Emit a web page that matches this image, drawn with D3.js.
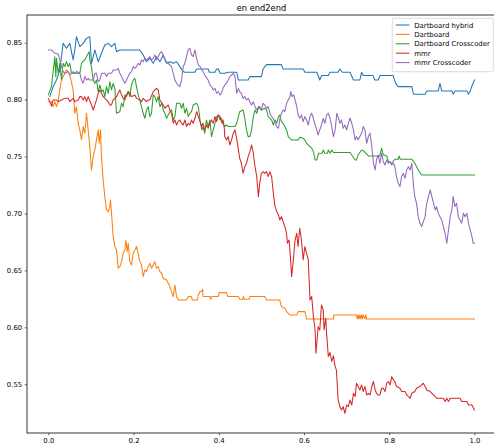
<!DOCTYPE html>
<html><head><meta charset="utf-8">
<script src="https://cdn.jsdelivr.net/npm/d3@7"></script>
<style>body{margin:0;background:#fff;} svg{display:block;font-family:"DejaVu Sans",sans-serif;}</style>
</head><body>
<svg id="c" width="494" height="443"></svg>
<script>
const seriesNames = ["Dartboard hybrid","Dartboard","Dartboard Crosscoder","mmr","mmr Crosscoder"];
const seriesColors = ["#1f77b4","#ff7f0e","#2ca02c","#d62728","#9467bd"];
const xTicks = [0.0,0.2,0.4,0.6,0.8,1.0];
const yTicks = [0.55,0.60,0.65,0.70,0.75,0.80,0.85];

const hybrid = [[0.0035,.8026],[.0114,.8114],[.0192,.8172],[.0270,.8260],[.0348,.8494],[.0426,.8451],[.0505,.8494],[.0583,.8348],[.0622,.8436],[.0661,.8553],[.0739,.8465],[.0818,.8494],[.0896,.8538],[.0974,.8553],[.1013,.8319],[.1092,.8436],[.1170,.8333],[.1248,.8407],[.1326,.8480],[.1405,.8494],[.1483,.8465],[.1561,.8494],[.1600,.8421],[.1678,.8436],[.2148,.8436],[.2226,.8392],[.2305,.8333],[.2383,.8363],[.2461,.8319],[.2539,.8377],[.2618,.8333],[.2696,.8392],[.2774,.8319],[.2852,.8333],[.2931,.8319],[.3009,.8333],[.3087,.8290],[.3165,.8246],[.320,.8240],[.344,.8240],[.348,.8269],[.375,.8269],[.378,.8240],[.391,.8240],[.395,.8269],[.399,.8269],[.403,.8231],[.414,.8231],[.422,.8240],[.442,.8240],[.446,.8172],[.469,.8172],[.473,.8202],[.500,.8202],[.504,.8269],[.512,.8307],[.547,.8307],[.551,.8269],[.598,.8269],[.602,.8240],[.630,.8240],[.637,.8172],[.641,.8211],[.657,.8211],[.661,.8240],[.680,.8240],[.684,.8269],[.690,.8240],[.708,.8240],[.716,.8172],[.731,.8172],[.735,.8240],[.739,.8211],[.762,.8211],[.766,.8172],[.774,.8172],[.778,.8211],[.809,.8211],[.815,.8143],[.821,.8114],[.853,.8114],[.857,.8047],[.884,.8047],[.888,.8076],[.915,.8076],[.919,.8143],[.923,.8076],[.947,.8076],[.950,.8047],[.954,.8076],[.982,.8076],[.986,.8047],[.990,.8076],[.994,.8120],[1.0,.8172]];

const dartboard = [[0.0,.7982],[.0074,.7982],[.0114,.7938],[.0153,.7982],[.0192,.7938],[.0231,.7982],[.0270,.8085],[.0309,.8172],[.0387,.8231],[.0426,.8260],[.0466,.8246],[.0505,.8216],[.0583,.8085],[.0622,.7880],[.0661,.7938],[.0700,.7792],[.0739,.7734],[.0779,.7646],[.0818,.7763],[.0857,.7704],[.0896,.7880],[.0935,.7734],[.0974,.7587],[.1013,.7382],[.1052,.7499],[.1092,.7558],[.1131,.7646],[.1170,.7734],[.1193,.7616],[.1225,.7734],[.1248,.7499],[.1287,.7294],[.1326,.7148],[.1365,.7031],[.1405,.7016],[.1444,.7060],[.1459,.7119],[.1483,.7002],[.1522,.6797],[.1561,.6709],[.1600,.6680],[.1639,.6519],[.1678,.6533],[.1718,.6577],[.1757,.6650],[.1796,.6680],[.1819,.6767],[.1851,.6665],[.1874,.6738],[.1913,.6577],[.1952,.6548],[.1992,.6650],[.2031,.6680],[.2070,.6709],[.2109,.6650],[.2148,.6577],[.2187,.6548],[.2226,.6445],[.2265,.6504],[.2305,.6489],[.2344,.6533],[.2383,.6562],[.2422,.6519],[.2461,.6548],[.2500,.6577],[.2539,.6519],[.2578,.6533],[.2618,.6489],[.2657,.6475],[.2696,.6431],[.2774,.6416],[.2813,.6387],[.2852,.6358],[.2891,.6314],[.2931,.6270],[.2970,.6372],[.3009,.6270],[.3048,.6240],[.3244,.6240],[.3283,.6270],[.336,.6270],[.338,.6240],[.350,.6240],[.352,.6284],[.356,.6314],[.360,.6314],[.362,.6334],[.363,.6270],[.379,.6270],[.381,.6246],[.383,.6270],[.399,.6270],[.401,.6305],[.418,.6305],[.421,.6270],[.446,.6270],[.449,.6246],[.456,.6246],[.458,.6270],[.460,.6246],[.471,.6246],[.473,.6270],[.508,.6270],[.512,.6240],[.543,.6240],[.545,.6211],[.547,.6182],[.555,.6167],[.559,.6138],[.567,.6109],[.583,.6109],[.586,.6138],[.602,.6138],[.606,.6074],[.669,.6074],[.670,.6109],[.723,.6109],[.725,.6074],[.727,.6109],[.729,.6074],[.731,.6109],[.733,.6074],[.735,.6109],[.737,.6074],[.739,.6109],[.743,.6074],[.745,.6109],[.747,.6074],[1.0,.6074]];

const crosscoder = [[0.0,.8041],[.0074,.8114],[.0153,.8377],[.0176,.8202],[.0192,.8363],[.0231,.8231],[.0270,.8319],[.0309,.8172],[.0348,.8319],[.0387,.8290],[.0426,.8333],[.0466,.8290],[.0505,.8319],[.0544,.8231],[.0739,.8231],[.0779,.8319],[.0857,.8348],[.0896,.8377],[.0959,.8421],[.0974,.8348],[.1013,.8290],[.1052,.8172],[.1092,.8143],[.1131,.8172],[.1170,.8070],[.1209,.8129],[.1248,.8070],[.1287,.8085],[.1326,.8026],[.1365,.8114],[.1405,.8055],[.1444,.8158],[.1483,.8085],[.1522,.8143],[.1561,.8099],[.1600,.7880],[.1678,.7894],[.1718,.7968],[.1757,.7938],[.1796,.8041],[.1835,.8026],[.1874,.8070],[.1913,.8026],[.1952,.8129],[.1992,.8172],[.2031,.8187],[.2070,.8114],[.2109,.8041],[.2148,.7997],[.2187,.7938],[.2226,.7880],[.2265,.7836],[.2305,.7909],[.2344,.7938],[.2383,.7851],[.2422,.7880],[.2461,.8041],[.2500,.8026],[.2539,.7982],[.2578,.8026],[.2618,.7938],[.2657,.7968],[.2696,.7909],[.2735,.7880],[.2774,.7836],[.2813,.7865],[.2852,.7894],[.2891,.7909],[.2931,.7821],[.2970,.7851],[.3009,.7968],[.3087,.7968],[.3126,.7924],[.3165,.7968],[.3205,.7880],[.3244,.7924],[.3283,.7851],[.332,.7880],[.336,.7894],[.340,.7953],[.348,.7968],[.352,.7938],[.356,.7821],[.360,.7734],[.363,.7763],[.367,.7704],[.371,.7821],[.375,.7763],[.379,.7821],[.383,.7675],[.387,.7734],[.391,.7792],[.395,.7851],[.399,.7865],[.403,.7821],[.406,.7836],[.410,.7792],[.414,.7763],[.418,.7777],[.422,.7763],[.438,.7763],[.442,.7792],[.446,.7851],[.449,.7894],[.457,.7909],[.461,.7836],[.465,.7734],[.469,.7675],[.473,.7675],[.477,.7734],[.481,.7851],[.485,.7909],[.489,.7880],[.493,.7924],[.496,.7938],[.500,.7909],[.508,.7924],[.512,.7909],[.516,.7851],[.520,.7836],[.524,.7821],[.528,.7777],[.532,.7821],[.536,.7792],[.540,.7851],[.543,.7865],[.547,.7807],[.551,.7792],[.555,.7763],[.559,.7734],[.563,.7675],[.567,.7660],[.571,.7646],[.587,.7646],[.590,.7669],[.598,.7660],[.602,.7646],[.606,.7616],[.610,.7602],[.618,.7573],[.622,.7543],[.626,.7470],[.630,.7470],[.634,.7529],[.643,.7529],[.645,.7558],[.649,.7529],[.655,.7529],[.657,.7558],[.661,.7529],[.665,.7558],[.669,.7535],[.708,.7535],[.712,.7514],[.720,.7470],[.723,.7470],[.727,.7514],[.735,.7558],[.739,.7552],[.751,.7505],[.778,.7505],[.782,.7573],[.786,.7514],[.794,.7505],[.798,.7455],[.806,.7441],[.813,.7476],[.821,.7476],[.823,.7505],[.826,.7476],[.853,.7476],[.860,.7441],[.868,.7382],[.876,.7338],[1.0,.7338]];

const mmr = [[0.0,.8011],[.0035,.7982],[.0074,.7944],[.0114,.7997],[.0192,.7997],[.0231,.7982],[.0309,.7997],[.0387,.8011],[.0466,.8011],[.0505,.7982],[.0583,.8011],[.0622,.7982],[.0700,.7997],[.0739,.8026],[.0779,.8026],[.0818,.7997],[.0857,.8026],[.0896,.7982],[.0935,.8026],[.1013,.7953],[.1052,.7909],[.1092,.7953],[.1131,.7997],[.1170,.8055],[.1209,.8085],[.1248,.8055],[.1287,.8026],[.1365,.7997],[.1405,.7982],[.1444,.7953],[.1483,.7953],[.1522,.7997],[.1600,.8026],[.1639,.8055],[.1678,.8085],[.1718,.8041],[.1757,.8011],[.1796,.7997],[.1835,.8041],[.1874,.8070],[.1913,.8055],[.1952,.8026],[.2031,.8041],[.2070,.8011],[.2148,.7997],[.2187,.7982],[.2226,.8011],[.2305,.7982],[.2344,.7997],[.2383,.7997],[.2461,.8070],[.2539,.8099],[.2578,.8085],[.2618,.7997],[.2696,.7953],[.2735,.7924],[.2774,.7938],[.2813,.7953],[.2852,.7909],[.2891,.7880],[.2931,.7792],[.2970,.7821],[.3009,.7777],[.3048,.7807],[.3087,.7821],[.3126,.7792],[.3165,.7777],[.3205,.7821],[.3244,.7763],[.3283,.7792],[.332,.7777],[.336,.7821],[.340,.7792],[.344,.7836],[.348,.7894],[.352,.7851],[.356,.7807],[.360,.7763],[.363,.7792],[.367,.7734],[.371,.7777],[.375,.7748],[.379,.7792],[.383,.7821],[.387,.7792],[.391,.7851],[.395,.7807],[.399,.7865],[.403,.7851],[.405,.7821],[.408,.7792],[.410,.7821],[.413,.7748],[.414,.7675],[.418,.7646],[.422,.7675],[.426,.7602],[.430,.7646],[.434,.7704],[.438,.7734],[.442,.7660],[.446,.7558],[.449,.7485],[.453,.7441],[.457,.7353],[.461,.7411],[.465,.7441],[.469,.7499],[.473,.7543],[.477,.7602],[.481,.7529],[.485,.7411],[.489,.7324],[.493,.7148],[.496,.7265],[.500,.7353],[.504,.7367],[.508,.7353],[.512,.7367],[.516,.7324],[.520,.7367],[.524,.7324],[.528,.7177],[.532,.7060],[.536,.7016],[.540,.6987],[.543,.6943],[.547,.6972],[.551,.6928],[.555,.6885],[.559,.6826],[.561,.6738],[.565,.6767],[.568,.6621],[.571,.6445],[.575,.6592],[.579,.6767],[.583,.6826],[.586,.6709],[.590,.6870],[.594,.6767],[.598,.6592],[.602,.6709],[.606,.6650],[.610,.6592],[.614,.6240],[.618,.6270],[.622,.6094],[.626,.5977],[.628,.5772],[.632,.5948],[.633,.6006],[.637,.5977],[.641,.6197],[.645,.6153],[.647,.5977],[.651,.6080],[.653,.5948],[.657,.5743],[.661,.5780],[.665,.5700],[.669,.5750],[.673,.5655],[.676,.5626],[.680,.5362],[.684,.5304],[.688,.5274],[.692,.5304],[.696,.5245],[.700,.5318],[.704,.5304],[.708,.5362],[.712,.5318],[.716,.5421],[.720,.5392],[.723,.5509],[.727,.5480],[.731,.5450],[.735,.5494],[.739,.5436],[.743,.5480],[.747,.5406],[.751,.5421],[.755,.5406],[.759,.5480],[.763,.5524],[.767,.5450],[.770,.5421],[.774,.5406],[.778,.5406],[.782,.5465],[.786,.5465],[.790,.5436],[.794,.5509],[.798,.5524],[.802,.5494],[.806,.5567],[.810,.5538],[.813,.5524],[.817,.5480],[.825,.5465],[.829,.5436],[.837,.5436],[.841,.5406],[.849,.5377],[.853,.5421],[.860,.5436],[.864,.5465],[.872,.5480],[.880,.5509],[.884,.5480],[.888,.5450],[.896,.5436],[.908,.5392],[.911,.5377],[.927,.5377],[.931,.5348],[.935,.5377],[.939,.5348],[.943,.5377],[.966,.5377],[.970,.5348],[.982,.5348],[.986,.5318],[.994,.5318],[1.0,.5274]];

const mmrCrosscoder = [[0.0,.8436],[.0074,.8436],[.0114,.8421],[.0153,.8407],[.0231,.8401],[.0270,.8348],[.0309,.8290],[.0348,.8246],[.0387,.8231],[.0466,.8246],[.0505,.8216],[.0583,.8246],[.0622,.8231],[.0661,.8246],[.0739,.8231],[.0779,.8172],[.0818,.8143],[.0857,.8202],[.0896,.8172],[.0935,.8187],[.0974,.8172],[.1052,.8172],[.1092,.8231],[.1131,.8231],[.1170,.8158],[.1209,.8172],[.1248,.8231],[.1326,.8231],[.1365,.8202],[.1405,.8231],[.1483,.8231],[.1522,.8260],[.1600,.8260],[.1639,.8275],[.1678,.8231],[.1718,.8202],[.1757,.8172],[.1796,.8143],[.1835,.8172],[.1874,.8202],[.1913,.8231],[.1952,.8246],[.1992,.8290],[.2031,.8275],[.2070,.8290],[.2109,.8319],[.2148,.8304],[.2187,.8348],[.2226,.8333],[.2265,.8363],[.2305,.8348],[.2344,.8363],[.2383,.8377],[.2422,.8348],[.2461,.8363],[.2500,.8392],[.2539,.8348],[.2618,.8407],[.2657,.8421],[.2696,.8392],[.2735,.8348],[.2813,.8319],[.2891,.8290],[.2931,.8231],[.2970,.8172],[.3009,.8143],[.3087,.8114],[.3126,.8172],[.3165,.8290],[.3205,.8319],[.3244,.8377],[.328,.8436],[.332,.8451],[.336,.8392],[.340,.8377],[.344,.8436],[.348,.8363],[.352,.8304],[.356,.8290],[.363,.8246],[.367,.8216],[.375,.8172],[.379,.8129],[.383,.8114],[.387,.8085],[.391,.8099],[.395,.8055],[.399,.8070],[.403,.8041],[.406,.8055],[.410,.8099],[.414,.8129],[.418,.8143],[.422,.8172],[.426,.8202],[.430,.8216],[.434,.8231],[.438,.8202],[.442,.8055],[.446,.8099],[.449,.8070],[.453,.8055],[.457,.8011],[.461,.8026],[.465,.7997],[.469,.8011],[.473,.7982],[.477,.7953],[.481,.7982],[.485,.7938],[.489,.7909],[.493,.7938],[.496,.7924],[.500,.7909],[.504,.7968],[.508,.7953],[.512,.7924],[.516,.7938],[.520,.7880],[.524,.7851],[.528,.7836],[.532,.7792],[.536,.7763],[.540,.7748],[.543,.7821],[.547,.7880],[.551,.7909],[.555,.7894],[.559,.7968],[.563,.7997],[.567,.8026],[.569,.8070],[.572,.8026],[.576,.8041],[.579,.7997],[.583,.7938],[.586,.7865],[.590,.7836],[.594,.7865],[.598,.7807],[.602,.7851],[.606,.7821],[.610,.7777],[.614,.7851],[.618,.7880],[.622,.7836],[.626,.7777],[.630,.7734],[.633,.7690],[.637,.7734],[.641,.7777],[.645,.7836],[.649,.7792],[.653,.7865],[.657,.7880],[.661,.7836],[.665,.7763],[.669,.7675],[.673,.7734],[.677,.7880],[.681,.7836],[.684,.7792],[.688,.7821],[.692,.7748],[.696,.7777],[.700,.7734],[.704,.7792],[.708,.7836],[.712,.7792],[.716,.7734],[.720,.7646],[.723,.7675],[.727,.7646],[.731,.7675],[.735,.7704],[.739,.7763],[.743,.7734],[.747,.7616],[.751,.7675],[.755,.7704],[.759,.7587],[.763,.7441],[.767,.7382],[.770,.7470],[.774,.7514],[.778,.7441],[.782,.7529],[.786,.7455],[.790,.7426],[.794,.7470],[.798,.7441],[.802,.7455],[.806,.7426],[.810,.7441],[.813,.7411],[.817,.7324],[.821,.7265],[.825,.7236],[.829,.7324],[.833,.7353],[.837,.7309],[.841,.7382],[.845,.7411],[.849,.7382],[.853,.7441],[.857,.7236],[.860,.7148],[.864,.7089],[.868,.6972],[.872,.6914],[.876,.6885],[.880,.6928],[.884,.6972],[.888,.7089],[.892,.7148],[.896,.7207],[.900,.7148],[.904,.7089],[.908,.7031],[.911,.7060],[.915,.7002],[.919,.6972],[.923,.6943],[.927,.6884],[.931,.6826],[.935,.6738],[.939,.6855],[.943,.6972],[.947,.7031],[.950,.7150],[.954,.7060],[.958,.7090],[.962,.6972],[.966,.6943],[.970,.6914],[.974,.7002],[.978,.6972],[.982,.7002],[.986,.6914],[.990,.6855],[.994,.6797],[.997,.6738],[1.0,.6738]];

const allSeries = [hybrid, dartboard, crosscoder, mmr, mmrCrosscoder];

const svg = d3.select("#c");
const L = 27, R = 495.8, T = 15, B = 433;
const x = d3.scaleLinear().domain([-0.05, 1.05]).range([L, R]);
const y = d3.scaleLinear().domain([0.5072, 0.8743]).range([B, T]);
const fs = 6.9;

svg.append("defs").append("clipPath").attr("id","clip")
  .append("rect").attr("x",L).attr("y",T).attr("width",R-L).attr("height",B-T);

const line = d3.line().x(d=>x(d[0])).y(d=>y(d[1]));
const g = svg.append("g").attr("clip-path","url(#clip)");
allSeries.forEach((s,i)=>{
  g.append("path").datum(s).attr("d",line).attr("fill","none")
   .attr("stroke",seriesColors[i]).attr("stroke-width",1.05)
   .attr("stroke-linejoin","round").attr("stroke-linecap","square");
});

// axes
const xAxis = d3.axisBottom(x).tickValues(xTicks).tickFormat(d3.format(".1f")).tickSizeOuter(0).tickSize(2.4).tickPadding(2.4);
const yAxis = d3.axisLeft(y).tickValues(yTicks).tickFormat(d3.format(".2f")).tickSizeOuter(0).tickSize(2.4).tickPadding(2.4);
const gx = svg.append("g").attr("transform",`translate(0,${B})`).call(xAxis);
const gy = svg.append("g").attr("transform",`translate(${L},0)`).call(yAxis);
[gx,gy].forEach(a=>{
  a.select(".domain").remove();
  a.selectAll(".tick line").attr("stroke","#000").attr("stroke-width",0.55);
  a.selectAll(".tick text").attr("font-size",fs).attr("fill","#000").attr("font-family","DejaVu Sans");
});
// frame
svg.append("rect").attr("x",L).attr("y",T).attr("width",R-L).attr("height",B-T)
  .attr("fill","none").attr("stroke","#000").attr("stroke-width",0.8);

// title
svg.append("text").attr("x",(L+R)/2).attr("y",11).attr("text-anchor","middle")
  .attr("font-size",8.3).attr("fill","#000").text("en end2end");

// legend
const lg = svg.append("g");
const lx = 392.3, ly = 18.3, lw = 101, lh = 53.4;
lg.append("rect").attr("x",lx).attr("y",ly).attr("width",lw).attr("height",lh)
  .attr("rx",1.8).attr("fill","#fff").attr("fill-opacity",0.8)
  .attr("stroke","#cccccc").attr("stroke-width",0.7);
seriesNames.forEach((n,i)=>{
  const yy = 25 + i*9.4;
  lg.append("line").attr("x1",395.7).attr("x2",409.5).attr("y1",yy).attr("y2",yy)
    .attr("stroke",seriesColors[i]).attr("stroke-width",1.05);
  lg.append("text").attr("x",414.3).attr("y",yy+2.5).attr("font-size",fs)
    .attr("fill","#000").text(n);
});
</script>
</body></html>
